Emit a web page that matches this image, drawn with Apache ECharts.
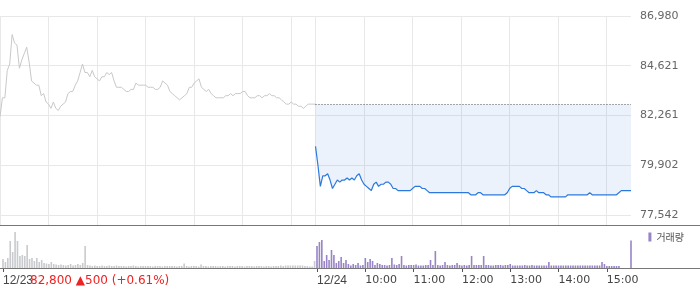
<!DOCTYPE html>
<html><head><meta charset="utf-8">
<script src="https://cdn.jsdelivr.net/npm/echarts@6/dist/echarts.min.js"></script>
<style>html,body{margin:0;padding:0;background:#fff}#c{width:700px;height:289px}</style>
</head><body><div id="c"></div>
<script>
// ---- data ----
const days = ['12/23', '12/24'];
const prevClose = 82800;
const yTicks = [77542, 79902, 82261, 84621, 86980];
const summaryPrice = '82,800';
const summaryChange = '\u25B2500';
const summaryRate = '(+0.61%)';

// 12/23 price, 3-minute steps 09:00..15:30
const day1Price = [
 82200,83100,83100,84400,84700,86100,85700,85600,84500,84900,
 85200,85500,84800,83900,83800,83700,83700,83200,83300,82900,
 82800,82600,82900,82600,82500,82700,82800,82900,83300,83400,
 83400,83700,83900,84300,84700,84300,84300,84100,84400,84100,
 84000,83900,84100,84100,84300,84200,84300,83900,83600,83600,
 83600,83500,83400,83400,83500,83500,83800,83700,83700,83700,
 83700,83600,83600,83600,83500,83500,83600,83900,83800,83700,
 83400,83300,83200,83100,83000,83100,83200,83300,83600,83600,
 83800,83900,84000,83600,83500,83400,83500,83300,83200,83100,
 83100,83100,83100,83200,83200,83300,83200,83300,83300,83300,
 83400,83400,83200,83100,83100,83100,83200,83200,83100,83200,
 83200,83300,83200,83200,83100,83100,83000,82900,82800,82800,
 82900,82800,82800,82700,82700,82600,82700,82800,82800,82800,
 82800];
// 12/24 price, 3-minute steps 09:00..15:30
const day2Price = [
 80800,79900,78900,79400,79400,79500,79200,78800,79000,79200,
 79100,79200,79200,79300,79200,79300,79200,79400,79500,79200,
 79000,78900,78800,78700,79000,79100,78900,79000,79000,79100,
 79100,79000,78800,78800,78700,78700,78700,78700,78700,78700,
 78800,78900,78900,78900,78800,78800,78700,78600,78600,78600,
 78600,78600,78600,78600,78600,78600,78600,78600,78600,78600,
 78600,78600,78600,78600,78500,78500,78500,78600,78600,78500,
 78500,78500,78500,78500,78500,78500,78500,78500,78500,78600,
 78800,78900,78900,78900,78900,78800,78800,78700,78600,78600,
 78600,78700,78600,78600,78600,78500,78500,78400,78400,78400,
 78400,78400,78400,78400,78500,78500,78500,78500,78500,78500,
 78500,78500,78500,78600,78500,78500,78500,78500,78500,78500,
 78500,78500,78500,78500,78500,78600,78700,78700,78700,78700,
 78700];
// volume (relative units)
const day1Volume = [
 90,60,100,270,160,360,270,120,130,120,
 230,90,100,70,100,60,80,50,45,40,
 60,40,35,30,35,30,25,30,40,25,
 30,40,30,50,220,30,25,20,25,20,
 20,25,20,20,25,20,20,25,20,20,
 20,15,20,20,25,20,15,20,20,20,
 20,20,15,20,20,20,15,20,20,20,
 20,20,15,20,20,45,20,15,20,20,
 20,15,35,20,20,15,20,20,20,15,
 20,20,15,20,20,20,15,20,20,20,
 15,20,20,20,15,20,20,20,15,20,
 20,15,20,20,20,25,20,25,25,25,
 25,25,25,25,25,20,20,15,15,70];
const day2Volume = [
 220,260,280,70,130,80,180,130,50,70,
 110,50,80,40,25,40,30,50,25,30,
 100,60,90,70,30,50,40,30,30,25,
 30,100,35,30,40,120,30,25,30,30,
 30,35,25,25,25,30,30,80,30,170,
 30,25,30,60,30,25,30,30,50,30,
 25,30,25,30,120,30,30,30,30,120,
 30,30,25,25,30,30,30,25,30,30,
 40,25,25,25,25,25,30,25,25,30,
 25,25,25,25,25,25,60,25,25,25,
 25,25,25,25,25,25,25,25,25,25,
 25,25,25,25,25,25,25,25,60,40,
 20,20,20,20,20,20,0,0,0,0,
 275];

// ---- categories (3-minute slots) ----
function slots(day, n) {
  const out = [];
  for (let i = 0; i < n; i++) {
    const m = 9 * 60 + i * 3;
    const hh = String(Math.floor(m / 60)).padStart(2, '0');
    const mm = String(m % 60).padStart(2, '0');
    out.push(day + ' ' + hh + ':' + mm);
  }
  return out;
}
const cats = slots(days[0], 130).concat(slots(days[1], 131));
const D2 = 130, PER_HOUR = 20;
const STEP = (yTicks[4] - yTicks[0]) / 4;
const pad = n => new Array(n).fill(null);

function isHourLine(i) {
  if (i < D2) return i % PER_HOUR === 0;
  return (i - D2) % PER_HOUR === 0 && i < cats.length - 1;
}
function isDay2Tick(i) {
  return i === 0 || (i >= D2 && (i - D2) % PER_HOUR === 0 && i < cats.length - 1);
}

const chart = echarts.init(document.getElementById('c'), null, {renderer: 'canvas'});
const lblFont = 'DejaVu Sans';
chart.setOption({
  animation: false,
  backgroundColor: '#fff',
  grid: [
    {left: 0, right: 69, top: 16, height: 209},
    {left: 0, right: 69, top: 228, height: 40}
  ],
  legend: {
    data: ['거래량'], right: 16, top: 232, padding: 0,
    icon: 'rect', itemWidth: 3, itemHeight: 9, itemGap: 4,
    textStyle: {color: '#555', fontSize: 10, fontFamily: 'Noto Sans CJK KR'}
  },
  xAxis: [
    {type: 'category', gridIndex: 0, data: cats, boundaryGap: false,
     axisLine: {show: false}, axisTick: {show: false}, axisLabel: {show: false},
     splitLine: {show: true, interval: (i) => isHourLine(i), lineStyle: {color: '#e8e8e8', width: 1}}},
    {type: 'category', gridIndex: 1, data: cats, boundaryGap: false,
     axisLine: {show: false},
     axisTick: {show: true, interval: (i) => isDay2Tick(i), length: 4, lineStyle: {color: '#555'}},
     axisLabel: {show: true, interval: (i) => isDay2Tick(i), align: 'left', margin: 7,
       color: '#444', fontSize: 11, fontFamily: lblFont,
       rich: {
         d: {color: '#444', fontSize: 12, fontFamily: 'Liberation Sans'},
         h: {color: '#444', fontSize: 11, fontFamily: lblFont}
       },
       formatter: (v) => { const p = v.split(' '); return p[1] === '09:00' ? '{d|' + p[0] + '}' : '{h|' + p[1] + '}'; }},
     splitLine: {show: false}}
  ],
  yAxis: [
    {type: 'value', gridIndex: 0, position: 'right',
     min: yTicks[0] - STEP * 10 / 49.75, max: yTicks[4],
     axisLine: {show: false},
     axisTick: {show: false, customValues: yTicks},
     axisLabel: {customValues: yTicks, margin: 9, color: '#666', fontSize: 11, fontFamily: lblFont,
       formatter: (v) => Math.round(v).toLocaleString('en-US')},
     splitLine: {show: true, lineStyle: {color: '#e8e8e8', width: 1}}},
    {type: 'value', gridIndex: 1, min: 0, max: 400, show: false, splitLine: {show: false}}
  ],
  series: [
    {name: days[0], type: 'line', xAxisIndex: 0, yAxisIndex: 0,
     data: day1Price, symbol: 'none', showSymbol: false,
     lineStyle: {color: '#c8c8ca', width: 1}, z: 3},
    {name: days[1], type: 'line', xAxisIndex: 0, yAxisIndex: 0,
     data: pad(D2).concat(day2Price), symbol: 'none', showSymbol: false,
     lineStyle: {color: '#2b79dd', width: 1.2},
     areaStyle: {color: 'rgba(40,110,220,0.12)', origin: prevClose},
     markLine: {silent: true, symbol: 'none', label: {show: false},
       lineStyle: {type: [1, 2], color: '#555', width: 1},
       data: [[{coord: [cats[D2], prevClose]}, {coord: [cats[cats.length - 1], prevClose]}]]},
     z: 4},
    {name: days[0] + ' 거래량', type: 'bar', xAxisIndex: 1, yAxisIndex: 1,
     data: day1Volume, barWidth: 1.6, itemStyle: {color: '#c8cacd'}},
    {name: '거래량', type: 'bar', xAxisIndex: 1, yAxisIndex: 1,
     data: pad(D2).concat(day2Volume), barWidth: 1.6, barGap: '-100%', itemStyle: {color: '#9884c6'}}
  ],
  graphic: [
    {type: 'line', silent: true, z: 10, shape: {x1: 0, y1: 225.5, x2: 700, y2: 225.5}, style: {stroke: '#777', lineWidth: 1}},
    {type: 'line', silent: true, z: 10, shape: {x1: 0, y1: 268.5, x2: 700, y2: 268.5}, style: {stroke: '#777', lineWidth: 1}},
    {type: 'text', silent: true, z: 10, left: 30, top: 275,
     style: {text: summaryPrice + ' ' + summaryChange + ' ' + summaryRate, fill: '#ee2222', font: '12px DejaVu Sans'}}
  ]
});
</script></body></html>
